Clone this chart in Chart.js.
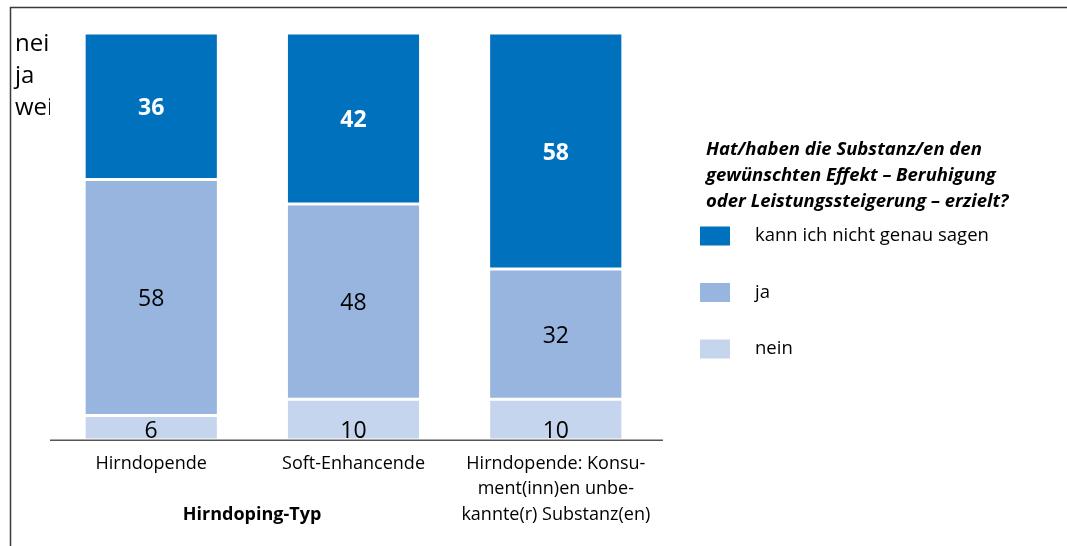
<!DOCTYPE html>
<html>
<head>
<meta charset="utf-8">
<script src="https://cdn.jsdelivr.net/npm/chart.js@4.4.1/dist/chart.umd.min.js"></script>
<style>
html,body{margin:0;padding:0;background:#fff;}
#wrap{width:1067px;height:546px;position:relative;}
</style>
</head>
<body>
<div id="wrap"><canvas id="c" width="1067" height="546"></canvas></div>
<script>
const categories = ["Hirndopende", "Soft-Enhancende", ["Hirndopende: Konsu-", "ment(inn)en unbe-", "kannte(r) Substanz(en)"]];
const neinValues = [6, 10, 10];
const jaValues = [58, 48, 32];
const kannValues = [36, 42, 58];
const seriesNames = ["nein", "ja", "kann ich nicht genau sagen"];
const legendTitle = ["Hat/haben die Substanz/en den", "gewünschten Effekt – Beruhigung", "oder Leistungssteigerung – erzielt?"];
const axisTitle = "Hirndoping-Typ";
const clippedLabels = ["nein", "ja", "weiß nicht"];

const FONT = "'Open Sans', 'DejaVu Sans', sans-serif";
const colors = ["#C6D5EE", "#97B5DE", "#0071BC"];

const decorPlugin = {
  id: 'decor',
  afterDatasetsDraw(chart) {
    const ctx = chart.ctx;
    // axis line
    ctx.save();
    ctx.strokeStyle = '#555';
    ctx.lineWidth = 1.5;
    ctx.beginPath();
    ctx.moveTo(chart.chartArea.left, chart.chartArea.bottom + 0.25);
    ctx.lineTo(663, chart.chartArea.bottom + 0.25);
    ctx.stroke();
    ctx.restore();
    chart.data.datasets.forEach((ds, di) => {
      const meta = chart.getDatasetMeta(di);
      meta.data.forEach((bar, i) => {
        const v = ds.data[i];
        const top = Math.min(bar.y, bar.base), bot = Math.max(bar.y, bar.base);
        let cy = (top + bot) / 2 + 2;
        if (di === 0) cy = bot - 9;
        ctx.save();
        ctx.textAlign = 'center';
        ctx.textBaseline = 'middle';
        if (di === 2) { ctx.fillStyle = '#fff'; ctx.font = "bold 23px " + FONT; }
        else { ctx.fillStyle = '#000'; ctx.font = "23px " + FONT; }
        ctx.fillText(String(v), bar.x, cy);
        ctx.restore();
      });
    });
  },
  afterDraw(chart) {
    const ctx = chart.ctx;
    ctx.save();
    // frame
    ctx.strokeStyle = '#3a3a3a';
    ctx.lineWidth = 1.5;
    ctx.beginPath();
    ctx.moveTo(10.5, 546);
    ctx.lineTo(10.5, 7.5);
    ctx.lineTo(1067, 7.5);
    ctx.stroke();
    // clipped labels
    ctx.save();
    ctx.beginPath();
    ctx.rect(0, 0, 50, 546);
    ctx.clip();
    ctx.fillStyle = '#000';
    ctx.font = "24px " + FONT;
    ctx.textBaseline = 'middle';
    ctx.textAlign = 'left';
    clippedLabels.forEach((t, i) => ctx.fillText(t, 15, 44 + i * 32));
    ctx.restore();
    // axis title
    ctx.fillStyle = '#000';
    ctx.font = "bold 18px " + FONT;
    ctx.textAlign = 'center';
    ctx.textBaseline = 'middle';
    ctx.fillText(axisTitle, 252, 515);
    // legend title
    ctx.font = "italic bold 18.5px " + FONT;
    ctx.textAlign = 'left';
    legendTitle.forEach((t, i) => ctx.fillText(t, 706, 150 + i * 26));
    // legend items (reverse order)
    ctx.font = "18.5px " + FONT;
    const n = chart.data.datasets.length;
    for (let k = 0; k < n; k++) {
      const ds = chart.data.datasets[n - 1 - k];
      const y = 236 + k * 56.5;
      ctx.fillStyle = ds.backgroundColor;
      ctx.fillRect(700, y - 9.5, 30, 19);
      ctx.fillStyle = '#000';
      ctx.fillText(ds.label, 755, y);
    }
    ctx.restore();
  }
};

const mkDs = (label, data, color) => ({
  label, data, backgroundColor: color,
  borderColor: '#ffffff',
  borderWidth: {top: 1.5, bottom: 1.5, left: 0, right: 0},
  borderSkipped: false,
  barPercentage: 0.65, categoryPercentage: 1.0
});

new Chart(document.getElementById('c'), {
  type: 'bar',
  data: {
    labels: categories,
    datasets: [
      mkDs(seriesNames[0], neinValues, colors[0]),
      mkDs(seriesNames[1], jaValues, colors[1]),
      mkDs(seriesNames[2], kannValues, colors[2])
    ]
  },
  options: {
    responsive: false,
    animation: false,
    devicePixelRatio: 1,
    layout: { padding: { left: 50, right: 410, top: 33, bottom: 0 } },
    plugins: { legend: { display: false }, tooltip: { enabled: false } },
    scales: {
      x: {
        stacked: true,
        grid: { display: false },
        border: { display: false },
        ticks: { color: '#000', font: { family: FONT, size: 18, lineHeight: 1.42 }, padding: 3, maxRotation: 0, autoSkip: false },
        afterFit(s) { s.height = 106; }
      },
      y: {
        stacked: true, display: false, min: 0, max: 100
      }
    }
  },
  plugins: [decorPlugin]
});
</script>
</body>
</html>
